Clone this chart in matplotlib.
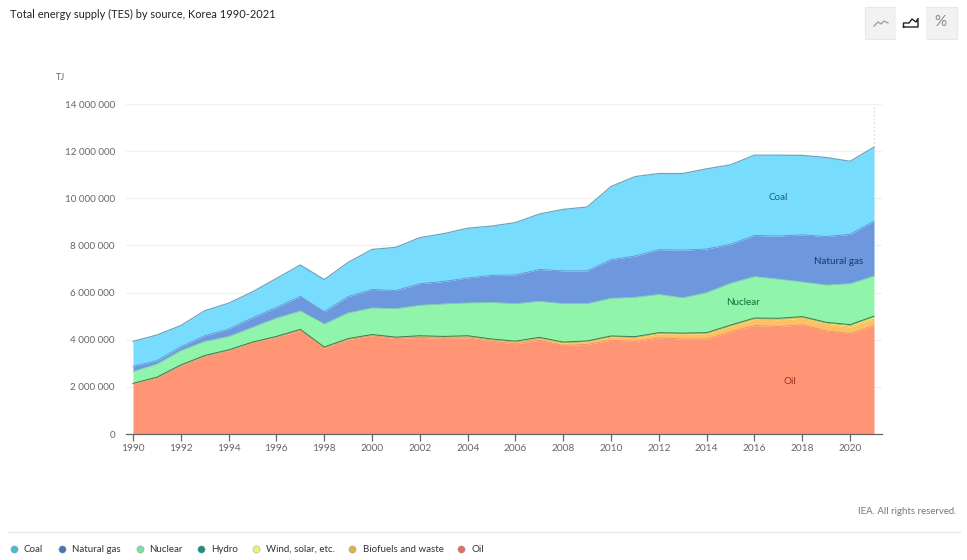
import matplotlib
matplotlib.use("Agg")
import matplotlib.pyplot as plt
from matplotlib.lines import Line2D
from matplotlib.patches import Rectangle
from matplotlib.ticker import FuncFormatter

plt.rcParams["font.family"] = ["Lato", "DejaVu Sans"]

W, H = 967, 560

years = list(range(1990, 2022))

# values in million TJ
oil = [2.12, 2.38, 2.90, 3.30, 3.54, 3.87, 4.10, 4.40, 3.65, 4.01, 4.17, 4.05, 4.10, 4.06, 4.08, 3.93,
       3.83, 3.98, 3.76, 3.80, 3.98, 3.93, 4.08, 4.03, 4.03, 4.33, 4.60, 4.56, 4.63, 4.38, 4.26, 4.60]
biofuels = [0.01, 0.01, 0.01, 0.01, 0.01, 0.01, 0.02, 0.02, 0.02, 0.02, 0.03, 0.04, 0.05, 0.06, 0.07, 0.08,
            0.09, 0.10, 0.11, 0.12, 0.15, 0.16, 0.18, 0.21, 0.23, 0.24, 0.27, 0.29, 0.28, 0.28, 0.28, 0.28]
wind_solar = [0, 0, 0, 0, 0, 0, 0, 0, 0, 0, 0, 0, 0, 0, 0, 0,
              0, 0, 0.01, 0.01, 0.01, 0.02, 0.02, 0.02, 0.02, 0.03, 0.03, 0.04, 0.05, 0.06, 0.08, 0.10]
hydro = [0.02] * 32
nuclear = [0.50, 0.56, 0.61, 0.60, 0.57, 0.63, 0.78, 0.78, 0.98, 1.09, 1.13, 1.21, 1.29, 1.38, 1.39, 1.55,
           1.59, 1.53, 1.63, 1.58, 1.60, 1.67, 1.62, 1.50, 1.70, 1.78, 1.76, 1.66, 1.47, 1.58, 1.74, 1.70]
gas = [0.22, 0.14, 0.16, 0.24, 0.31, 0.40, 0.45, 0.62, 0.52, 0.69, 0.78, 0.77, 0.92, 0.95, 1.06, 1.15,
       1.22, 1.35, 1.39, 1.39, 1.64, 1.75, 1.90, 2.02, 1.85, 1.65, 1.74, 1.83, 2.00, 2.06, 2.09, 2.33]
coal = [1.06, 1.09, 0.90, 1.06, 1.10, 1.10, 1.23, 1.33, 1.36, 1.45, 1.70, 1.83, 1.95, 2.03, 2.11, 2.09,
        2.22, 2.35, 2.61, 2.71, 3.10, 3.37, 3.23, 3.25, 3.40, 3.37, 3.41, 3.43, 3.37, 3.35, 3.10, 3.14]

# bottom to top
series = [oil, biofuels, wind_solar, hydro, nuclear, gas, coal]
fills = ["#ff9575", "#ffc063", "#f2f266", "#1f8f74", "#90f5ab", "#6d98dd", "#78dcff"]
edges = ["#f08c70", "#eab45c", "#c8c850", "#3f7a58", "#84e4a0", "#6690d2", "#6aa6bd"]
widths = [0.6, 0.5, 0.4, 0.7, 0.5, 0.6, 0.9]

legend_names = ["Coal", "Natural gas", "Nuclear", "Hydro", "Wind, solar, etc.", "Biofuels and waste", "Oil"]
legend_colors = ["#52b4d8", "#4a72b8", "#80dca2", "#1a9080", "#eeee70", "#e0b050", "#e0705c"]
legend_marker_x = [14, 62, 140, 201, 256, 352, 461]
legend_text_x = [24, 72, 149, 211, 266, 363, 471]

area_labels = ["Coal", "Natural gas", "Nuclear", "Oil"]
area_label_x = [2017.0, 2019.5, 2015.5, 2017.5]
area_label_y = [10.05, 7.3, 5.6, 2.22]
area_label_colors = ["#1d5f80", "#1f3868", "#1a6b40", "#9c3020"]

y_ticks = list(range(0, 15, 2))
x_ticks = list(range(1990, 2021, 2))

fig = plt.figure(figsize=(W / 100, H / 100), dpi=100)

# chart frame in pixels: 1990 at 133, 2021 at 874, 0 at 434, 14M at 104
px_year = (874 - 133) / 31
ax = fig.add_axes([126 / W, 1 - 434 / H, (882 - 126) / W, 330 / H])
ax.set_xlim(1990 - 7 / px_year, 2021 + 8 / px_year)
ax.set_ylim(0, 14)

bottom = [0] * len(years)
for values, fill, edge, lw in zip(series, fills, edges, widths):
    top = [b + v for b, v in zip(bottom, values)]
    ax.fill_between(years, bottom, top, color=fill, lw=0, zorder=2)
    ax.plot(years, top, color=edge, lw=lw, zorder=3)
    bottom = top

ax.plot([2021, 2021], [bottom[-1], 14], color="#d8d8d8", lw=0.8, ls=(0, (1.5, 2)), zorder=1)

ax.set_yticks(y_ticks)
ax.set_xticks(x_ticks)
ax.yaxis.set_major_formatter(FuncFormatter(lambda v, p: "0" if v == 0 else f"{int(v):d} 000 000"))
ax.grid(axis="y", color="#f0f0f0", lw=0.9, zorder=0)
ax.grid(axis="x", visible=False)
ax.tick_params(axis="y", length=0, pad=8, labelsize=7.1, labelcolor="#666666")
ax.tick_params(axis="x", length=5, width=0.9, color="#666666", pad=2, labelsize=7.3, labelcolor="#666666")
for name in ["top", "left", "right"]:
    ax.spines[name].set_visible(False)
ax.spines["bottom"].set_color("#666666")
ax.spines["bottom"].set_linewidth(0.9)
ax.spines["bottom"].set_zorder(5)

for name, x, y, color in zip(area_labels, area_label_x, area_label_y, area_label_colors):
    ax.text(x, y, name, ha="center", va="center", fontsize=7.1, color=color, zorder=6)


def fx(px):
    return px / W


def fy(px):
    return 1 - px / H


fig.text(fx(10), fy(14), "Total energy supply (TES) by source, Korea 1990-2021", fontsize=7.9,
         color="#222222", va="center")
fig.text(fx(56), fy(77), "TJ", fontsize=6.6, color="#666666", va="center")
fig.text(fx(956), fy(511), "IEA. All rights reserved.", fontsize=6.9, color="#777777", va="center", ha="right")

# separator and legend along the bottom
fig.add_artist(Line2D([fx(8), fx(960)], [fy(531.5), fy(531.5)], color="#e6e6e6", lw=0.9))
for name, color, mx, tx in zip(legend_names, legend_colors, legend_marker_x, legend_text_x):
    fig.add_artist(Line2D([fx(mx)], [fy(549)], marker="o", ms=5.2, color=color, mec="#8fa0a0", mew=0.3, ls=""))
    fig.text(fx(tx), fy(549), name, fontsize=7.0, color="#333333", va="center")

# chart type buttons top right
fig.add_artist(Rectangle((fx(865), fy(39)), 92 / W, 32 / H, transform=fig.transFigure,
                         fc="#f2f2f2", ec="#e8e8e8", lw=0.8))
fig.add_artist(Rectangle((fx(896), fy(39.5)), 30 / W, 33 / H, transform=fig.transFigure,
                         fc="white", ec="none"))
fig.add_artist(Line2D([fx(p) for p in (874, 878, 881, 884, 888)], [fy(p) for p in (26, 22, 24, 21, 23)],
                      color="#9a9a9a", lw=0.9))
fig.add_artist(Line2D([fx(p) for p in (903.5, 903.5, 909, 912, 916, 918, 918, 903.5)],
                      [fy(p) for p in (27, 23, 23, 19, 22, 18.5, 27, 27)], color="#222222", lw=1.0))
fig.text(fx(940), fy(22.5), "%", fontsize=11, color="#888888", ha="center", va="center")

fig.savefig("out.png", dpi=100)
